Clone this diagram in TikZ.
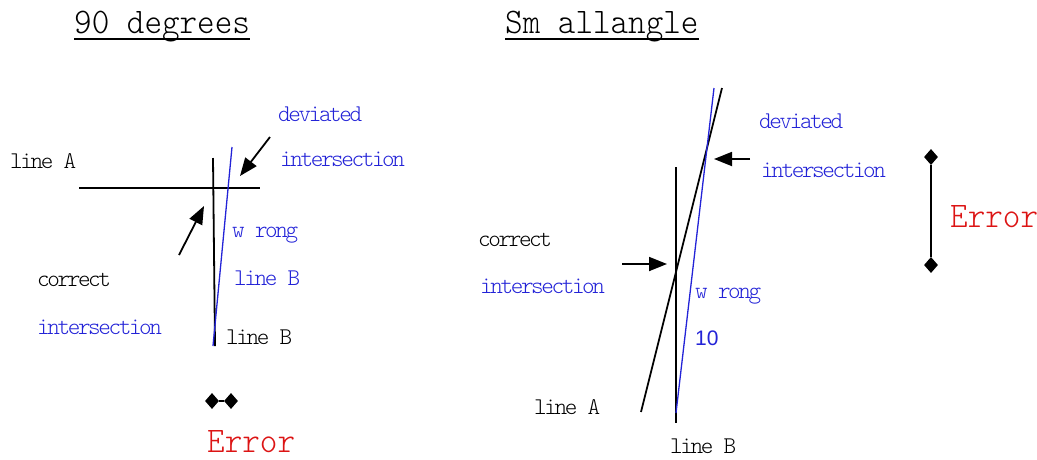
\documentclass[tikz,border=0pt]{standalone}
\usepackage{fontspec}
\usetikzlibrary{arrows.meta,shapes.geometric}
\newfontfamily\numf{Liberation Sans}
\newfontfamily\bodyf{lmmonolt10-regular.otf}[LetterSpace=-10]
\newfontfamily\ttlf{lmmonolt10-regular.otf}[FakeStretch=0.93]
\definecolor{blueT}{RGB}{35,35,215}
\definecolor{redT}{RGB}{220,20,20}
\tikzset{
  txt/.style={inner sep=0pt, anchor=base west, font=\bodyf\fontsize{24pt}{24pt}\selectfont},
  btxt/.style={txt, text=blueT},
  ttl/.style={inner sep=0pt, anchor=base west, font=\ttlf\fontsize{36pt}{36pt}\selectfont},
  errtxt/.style={ttl, text=redT},
  blk/.style={line width=1.8pt, black},
  blu/.style={line width=1.3pt, blueT},
  arr/.style={line width=1.8pt, -{Triangle[length=18pt,width=14pt]}},
  diam/.style={diamond, fill=black, inner sep=0pt, minimum width=14pt, minimum height=16pt},
  uline/.style={line width=2.5pt}
}
\begin{document}
\begin{tikzpicture}[x=1pt,y=-1pt]
\useasboundingbox (0,0) rectangle (1037,459);
% ---------- left: 90 degrees ----------
\node[ttl] (t1) at (74,33) {90 degrees};
\draw[uline] ([yshift=-6pt]t1.base west) -- ([yshift=-6pt]t1.base east);
\coordinate (Al) at (79,188);
\coordinate (Ar) at (260,188);
\coordinate (Bt) at (213,158);
\coordinate (Bb) at (215,346);
\coordinate (Wt) at (232,147);
\coordinate (Wb) at (213,346);
\coordinate (d1s) at (270,137);
\coordinate (d1e) at (240,176);
\coordinate (c1s) at (179,255);
\coordinate (c1e) at (204,206);
\draw[blk] (Al) -- (Ar);
\draw[blk] (Bt) -- (Bb);
\draw[blu] (Wt) -- (Wb);
\draw[arr] (d1s) -- (d1e);
\draw[arr] (c1s) -- (c1e);
\node[txt] (la1) at (10,168) {line A};
\node[btxt] (dev1) at (278,121) {deviated};
\node[btxt] (int1) at (280,166) {intersection};
\node[btxt] (wr1) at (232,237) {w rong};
\node[btxt] (lbb1) at (234,285) {line B};
\node[txt] (cor1) at (37,286) {correct};
\node[btxt] (int2) at (37,334) {intersection};
\node[txt] (lb1) at (226,344) {line B};
\node[diam] (e1a) at (212,401) {};
\node[diam] (e1b) at (231,401) {};
\draw[line width=1.5pt] (e1a) -- (e1b);
\node[errtxt] (err1) at (207,452) {Error};
% ---------- right: small angle ----------
\node[ttl] (t2) at (505,33) {Sm allangle};
\draw[uline] ([yshift=-6pt]t2.base west) -- ([yshift=-6pt]t2.base east);
\coordinate (VBt) at (676,167);
\coordinate (VBb) at (676,423);
\coordinate (LAb) at (641,412);
\coordinate (LAt) at (722,88);
\coordinate (WBb) at (676,413);
\coordinate (WBt) at (714,88);
\coordinate (d2s) at (750,159);
\coordinate (d2e) at (714,159);
\coordinate (c2s) at (622,264);
\coordinate (c2e) at (667,264);
\draw[blk] (VBt) -- (VBb);
\draw[blk] (LAb) -- (LAt);
\draw[blu] (WBb) -- (WBt);
\draw[arr] (d2s) -- (d2e);
\draw[arr] (c2s) -- (c2e);
\node[diam] (e2a) at (931,157) {};
\node[diam] (e2b) at (931,265) {};
\draw[line width=1.8pt] (e2a) -- (e2b);
\node[btxt] (dev2) at (759,128) {deviated};
\node[btxt] (int3) at (761,177) {intersection};
\node[errtxt] (err2) at (950,227) {Error};
\node[txt] (cor2) at (478,246) {correct};
\node[btxt] (int4) at (480,293) {intersection};
\node[btxt] (wr2) at (695,298) {w rong};
\node[inner sep=0pt, anchor=base west, text=blueT, font=\numf\fontsize{21pt}{21pt}\selectfont] (ten) at (695,345) {10};
\node[txt] (la2) at (534,414) {line A};
\node[txt] (lb2) at (670,453) {line B};
\end{tikzpicture}
\end{document}
